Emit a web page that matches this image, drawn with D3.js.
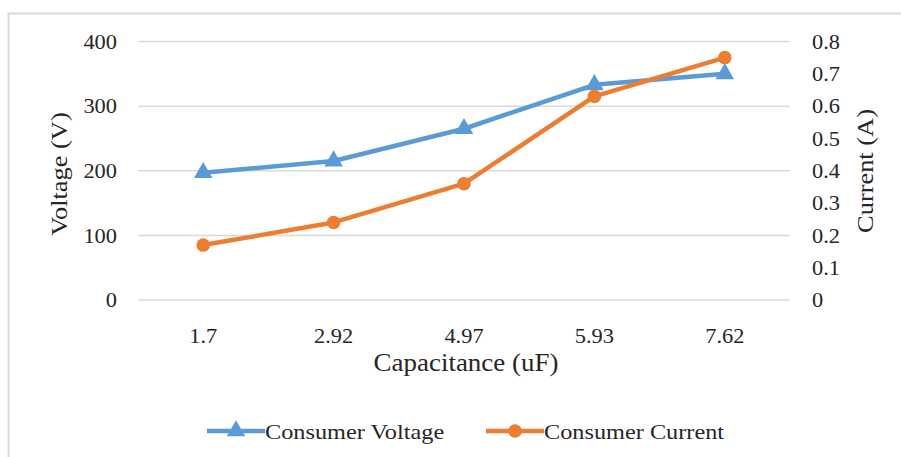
<!DOCTYPE html>
<html>
<head>
<meta charset="utf-8">
<script src="https://cdn.jsdelivr.net/npm/d3@7"></script>
<style>
  html, body { margin: 0; padding: 0; background: #fff; }
  svg { display: block; }
  text { font-family: "Liberation Serif", "Times New Roman", serif; fill: #262626; }
</style>
</head>
<body>
<svg id="chart" width="901" height="457"></svg>
<script>
// Measured supply values against the capacitor size
const capacitance = ["1.7", "2.92", "4.97", "5.93", "7.62"];
const voltage = [197, 215, 265, 333, 350];
const current = [0.17, 0.24, 0.36, 0.63, 0.75];
const voltageTicks = [0, 100, 200, 300, 400];
const currentTicks = [0, 0.1, 0.2, 0.3, 0.4, 0.5, 0.6, 0.7, 0.8];

const blue = "#5B9BD5", orange = "#ED7D31", grid = "#D9D9D9";
const SX = 1.12; // slightly wide glyphs

const svg = d3.select("#chart");
const plot = { left: 138, right: 790, top: 41.5, bottom: 300 };

// outer frame
svg.append("rect")
  .attr("x", 8.5).attr("y", 13.5)
  .attr("width", 920).attr("height", 480)
  .attr("fill", "none").attr("stroke", grid).attr("stroke-width", 2);

const x = d3.scaleBand().domain(capacitance).range([plot.left, plot.right]);
const yV = d3.scaleLinear().domain([0, 400]).range([plot.bottom, plot.top]);
const yI = d3.scaleLinear().domain([0, 0.8]).range([plot.bottom, plot.top]);

// horizontal gridlines
svg.append("g").selectAll("line").data(voltageTicks).join("line")
  .attr("x1", plot.left).attr("x2", plot.right)
  .attr("y1", d => yV(d)).attr("y2", d => yV(d))
  .attr("stroke", grid).attr("stroke-width", 1.5);

// left axis (voltage)
const axL = svg.append("g").attr("transform", "translate(117,0)")
  .call(d3.axisLeft(yV).tickValues(voltageTicks).tickSize(0).tickPadding(0));
// right axis (current)
const axR = svg.append("g").attr("transform", "translate(812,0)")
  .call(d3.axisRight(yI).tickValues(currentTicks).tickSize(0).tickPadding(0)
    .tickFormat(d => d === 0 ? "0" : d3.format(".1f")(d)));
// bottom axis (capacitance)
const axB = svg.append("g").attr("transform", "translate(0,343)")
  .call(d3.axisBottom(x).tickSize(0).tickPadding(0));

[axL, axR, axB].forEach(g => {
  g.select(".domain").remove();
  g.attr("font-size", null).attr("font-family", null);
  g.selectAll("text")
    .style("font-size", "20px")
    .attr("fill", "#262626")
    .attr("transform", `scale(${SX},1)`);
});
axL.selectAll("text").attr("dy", "0.34em");
axR.selectAll("text").attr("dy", "0.34em");
axB.selectAll("text").attr("y", 0).attr("dy", 0);

function label(txt, tx, ty, rot, size) {
  svg.append("text")
    .attr("transform", `translate(${tx},${ty}) rotate(${rot}) scale(1.1,1)`)
    .attr("text-anchor", "middle")
    .style("font-size", size + "px")
    .text(txt);
}
// axis titles
label("Capacitance (uF)", 466, 371, 0, 24.5);
label("Voltage (V)", 67, 174, -90, 24);
label("Current (A)", 873, 171, -90, 24);

const cx = d => x(d) + x.bandwidth() / 2;

// voltage series
svg.append("path")
  .datum(capacitance.map((c, i) => [cx(c), yV(voltage[i])]))
  .attr("d", d3.line())
  .attr("fill", "none").attr("stroke", blue).attr("stroke-width", 4.5)
  .attr("stroke-linejoin", "round");
const tri = d3.symbol().type(d3.symbolTriangle).size(150);
svg.append("g").selectAll("path").data(capacitance).join("path")
  .attr("d", tri)
  .attr("transform", (c, i) => `translate(${cx(c)},${yV(voltage[i])})`)
  .attr("fill", blue);

// current series
svg.append("path")
  .datum(capacitance.map((c, i) => [cx(c), yI(current[i])]))
  .attr("d", d3.line())
  .attr("fill", "none").attr("stroke", orange).attr("stroke-width", 4.5)
  .attr("stroke-linejoin", "round");
svg.append("g").selectAll("circle").data(capacitance).join("circle")
  .attr("cx", cx)
  .attr("cy", (c, i) => yI(current[i]))
  .attr("r", 6.8).attr("fill", orange);

// legend
const legend = [
  { name: "Consumer Voltage", color: blue, shape: "tri", x0: 207 },
  { name: "Consumer Current", color: orange, shape: "circle", x0: 486 }
];
const lg = svg.append("g");
legend.forEach(l => {
  const ly = 431;
  lg.append("line").attr("x1", l.x0).attr("x2", l.x0 + 58)
    .attr("y1", ly).attr("y2", ly)
    .attr("stroke", l.color).attr("stroke-width", 4.5);
  if (l.shape === "tri") {
    lg.append("path").attr("d", tri).attr("transform", `translate(${l.x0 + 29},${ly})`)
      .attr("fill", l.color);
  } else {
    lg.append("circle").attr("cx", l.x0 + 29).attr("cy", ly).attr("r", 6.8).attr("fill", l.color);
  }
  lg.append("text")
    .attr("transform", `translate(${l.x0 + 58},${ly + 8}) scale(1.12,1)`)
    .style("font-size", "21.7px").text(l.name);
});
</script>
</body>
</html>
